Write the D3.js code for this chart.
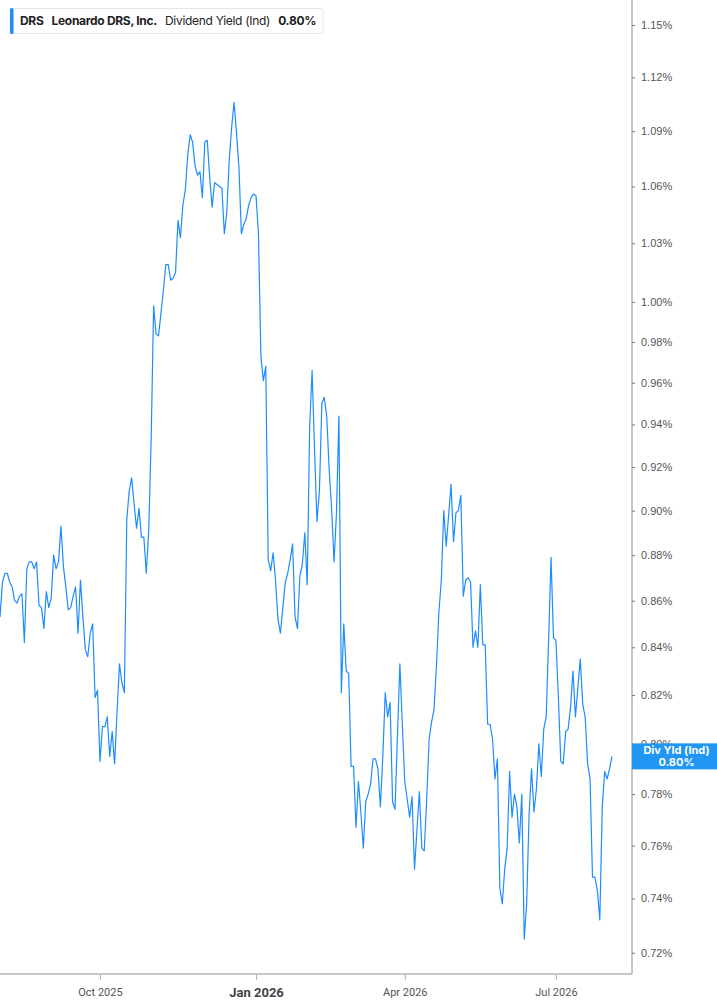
<!DOCTYPE html>
<html>
<head>
  <meta charset="utf-8" />
  <script src="https://cdnjs.cloudflare.com/ajax/libs/d3/7.8.5/d3.min.js"></script>
  <style>
    body { margin: 0; background: #fff; }
    svg { display: block; font-family: Inter, "Noto Sans", sans-serif; }
  </style>
</head>
<body>
<svg id="chart" width="717" height="1005"></svg>
<script>
  // daily dividend yield (%), one value per trading day
  const yieldValues = [
    0.853, 0.868, 0.872, 0.872, 0.868, 0.866, 0.860, 0.859, 0.862, 0.863,
    0.842, 0.874, 0.877, 0.877, 0.874, 0.877, 0.858, 0.857, 0.848, 0.864,
    0.857, 0.861, 0.880, 0.874, 0.877, 0.893, 0.875, 0.866, 0.856, 0.857,
    0.862, 0.866, 0.846, 0.869, 0.853, 0.839, 0.836, 0.846, 0.850, 0.819,
    0.822, 0.793, 0.807, 0.807, 0.811, 0.795, 0.805, 0.792, 0.813, 0.833,
    0.825, 0.821,
    0.896, 0.909, 0.915, 0.903, 0.892, 0.901, 0.888, 0.888, 0.872, 0.891,
    0.933, 0.998, 0.984, 0.983, 0.994, 1.006, 1.019, 1.019, 1.011, 1.012,
    1.015, 1.042, 1.033, 1.050, 1.058, 1.077, 1.088, 1.084, 1.071, 1.066,
    1.068, 1.054, 1.084, 1.085, 1.065, 1.049, 1.062, 1.061, 1.060, 1.059,
    1.035, 1.046, 1.074, 1.092, 1.106, 1.089, 1.070, 1.035, 1.040, 1.043,
    1.050, 1.054, 1.056, 1.055, 1.035, 0.973, 0.961, 0.968,
    0.878, 0.873, 0.881, 0.869, 0.852, 0.846, 0.857, 0.868, 0.872, 0.878,
    0.885, 0.853, 0.848, 0.871, 0.876, 0.890, 0.867, 0.939, 0.966, 0.928,
    0.895, 0.909, 0.950, 0.953, 0.944, 0.919, 0.901, 0.877, 0.899, 0.944,
    0.821, 0.850, 0.830, 0.829, 0.791, 0.791, 0.767, 0.785, 0.773, 0.759,
    0.777, 0.780, 0.784, 0.794, 0.794, 0.790, 0.775, 0.795, 0.821, 0.811,
    0.817, 0.777, 0.774, 0.803, 0.833, 0.808, 0.785, 0.778,
    0.771, 0.779, 0.751, 0.766, 0.781, 0.759, 0.758, 0.778, 0.802, 0.809,
    0.814, 0.832, 0.855, 0.869, 0.900, 0.884, 0.898, 0.912, 0.886, 0.899,
    0.900, 0.907, 0.862, 0.869, 0.870, 0.868, 0.840, 0.847, 0.840, 0.867,
    0.841, 0.841, 0.808, 0.808, 0.802, 0.786, 0.794, 0.744, 0.738, 0.751,
    0.759,
    0.789, 0.771, 0.780, 0.775, 0.761, 0.780, 0.725, 0.738, 0.772, 0.790,
    0.773, 0.782, 0.800, 0.787, 0.806, 0.811, 0.843, 0.879, 0.844, 0.843,
    0.819, 0.793, 0.792, 0.805, 0.806, 0.815, 0.830, 0.811, 0.823, 0.835,
    0.816, 0.811, 0.792, 0.786, 0.748, 0.748, 0.743, 0.732, 0.775, 0.789,
    0.786, 0.790, 0.795
  ];

  // trading calendar: first session and market holidays in the window
  const firstSession = "2025-08-04";
  const holidays = ["2025-09-01", "2025-11-27", "2025-12-25", "2026-01-01", "2026-01-19",
                    "2026-02-16", "2026-04-03", "2026-05-25", "2026-06-19", "2026-07-03"];

  const yTicks = [0.72, 0.74, 0.76, 0.78, 0.80, 0.82, 0.84, 0.86, 0.88, 0.90, 0.92,
                  0.94, 0.96, 0.98, 1.00, 1.03, 1.06, 1.09, 1.12, 1.15];

  const ticker = "DRS";
  const company = "Leonardo DRS, Inc.";
  const seriesName = "Dividend Yield (Ind)";
  const badgeName = "Div Yld (Ind)";

  const fmtDay = d3.timeFormat("%Y-%m-%d");
  const sessions = [];
  let day = d3.timeParse("%Y-%m-%d")(firstSession);
  while (sessions.length < yieldValues.length) {
    const wd = day.getDay();
    if (wd !== 0 && wd !== 6 && !holidays.includes(fmtDay(day))) sessions.push(new Date(day));
    day = d3.timeDay.offset(day, 1);
  }
  const data = yieldValues.map((v, i) => ({ i: i, date: sessions[i], value: v }));

  // first session of each quarter gets an axis label
  const quarterStarts = data.filter((d, i) =>
    i > 0 && d.date.getMonth() % 3 === 0 && d.date.getMonth() !== data[i - 1].date.getMonth());

  const W = 717, plotRight = 632, plotBottom = 974;
  const svg = d3.select("#chart");

  const x = d3.scaleLinear().domain([0, data.length - 1]).range([0, 612]);
  const y = d3.scaleLog().domain([0.7123, 1.1646]).range([plotBottom, 0]);

  // y axis on the right
  const yAxis = svg.append("g")
    .attr("transform", `translate(${plotRight},0)`)
    .call(d3.axisRight(y).tickValues(yTicks).tickSize(3).tickPadding(6)
      .tickFormat(d => d3.format(".2f")(d) + "%"));
  yAxis.select(".domain").attr("stroke", "#b5b5b5").attr("stroke-width", 1.5)
    .attr("d", `M0,0V${plotBottom}`);
  yAxis.selectAll(".tick line").attr("stroke", "#777");
  yAxis.selectAll(".tick text").attr("fill", "#555").style("font-size", "11px");

  // x axis along the bottom
  const xAxis = svg.append("g")
    .attr("transform", `translate(0,${plotBottom})`)
    .call(d3.axisBottom(x).tickValues(quarterStarts.map(d => d.i)).tickSize(6).tickPadding(8)
      .tickFormat(i => d3.timeFormat("%b %Y")(data[i].date)));
  xAxis.select(".domain").attr("stroke", "#b5b5b5").attr("stroke-width", 1.5)
    .attr("d", `M0,0H${plotRight}`);
  xAxis.selectAll(".tick line").attr("stroke", "#b5b5b5");
  xAxis.selectAll(".tick text")
    .style("font-family", "Roboto, sans-serif")
    .style("font-size", i => data[i].date.getMonth() === 0 ? "13px" : "11px")
    .style("font-weight", i => data[i].date.getMonth() === 0 ? "bold" : "normal")
    .attr("fill", i => data[i].date.getMonth() === 0 ? "#444" : "#555");

  // the series
  svg.append("path")
    .datum(data)
    .attr("fill", "none")
    .attr("stroke", "#1e8cff")
    .attr("stroke-width", 1.2)
    .attr("stroke-linejoin", "round")
    .attr("d", d3.line().x(d => x(d.i)).y(d => y(d.value)));

  // last value badge on the axis
  const last = data[data.length - 1];
  const by = y(last.value);
  const badge = svg.append("g");
  badge.append("rect")
    .attr("x", plotRight).attr("y", by - 13).attr("width", W - plotRight).attr("height", 26)
    .attr("fill", "#2196f3");
  badge.append("text")
    .attr("x", (plotRight + W) / 2 + 2).attr("y", by - 2)
    .attr("text-anchor", "middle").attr("fill", "#fff")
    .style("font-size", "11px").style("font-weight", "bold")
    .text(badgeName);
  badge.append("text")
    .attr("x", (plotRight + W) / 2 + 2).attr("y", by + 10)
    .attr("text-anchor", "middle").attr("fill", "#fff")
    .style("font-size", "11px").style("font-weight", "bold")
    .text(d3.format(".2f")(last.value) + "%");

  // legend header
  const legend = svg.append("g");
  const box = legend.append("rect")
    .attr("x", 10.5).attr("y", 8.5).attr("height", 25).attr("rx", 3)
    .attr("fill", "#fff").attr("stroke", "#e6e6e6");
  legend.append("rect")
    .attr("x", 10).attr("y", 8).attr("width", 3.5).attr("height", 26).attr("rx", 1.5)
    .attr("fill", "#1e8cff");
  const parts = [
    { t: ticker, w: "bold" },
    { t: company, w: "bold" },
    { t: seriesName, w: "normal" },
    { t: d3.format(".2f")(last.value) + "%", w: "bold" }
  ];
  let tx = 20;
  parts.forEach(p => {
    const t = legend.append("text")
      .attr("x", tx).attr("y", 25)
      .attr("fill", "#222")
      .style("font-size", "12px").style("font-weight", p.w)
      .style("letter-spacing", "-0.3px")
      .text(p.t);
    tx += t.node().getComputedTextLength() + 8;
  });
  box.attr("width", tx - 8 + 7 - 10.5);
</script>
</body>
</html>
